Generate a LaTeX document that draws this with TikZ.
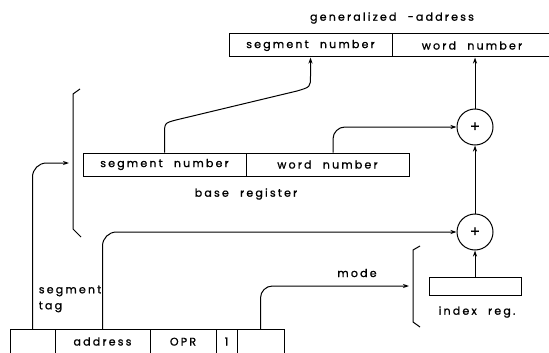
\documentclass[tikz,border=0pt]{standalone}
\usepackage{fontspec}
\setmainfont{Poppins}[LetterSpace=20,WordSpace=2.2,FakeBold=1.2]
\usetikzlibrary{arrows.meta}
\begin{document}
\begin{tikzpicture}[x=1pt,y=-1pt,line width=1pt,
        >={Stealth[length=6pt,width=4pt]},
        lbl/.style={font=\fontsize{11}{16}\selectfont},
        field/.style={draw,lbl,minimum height=23pt,inner sep=0pt},
        instr/.style={field,anchor=north,minimum height=0pt,text height=16pt,text depth=24pt},
        adder/.style={draw,circle,minimum size=36pt,inner sep=0pt,font=\fontsize{15}{15}\selectfont}]
        \useasboundingbox (0,0) rectangle (549,353);
        % generalized address
        \node[field,minimum width=163pt] (gseg) at (310.5,45.5) {segment number};
        \node[field,minimum width=160pt] (gword) at (472,45.5) {word number};
        \node[lbl] (gname) at (392,18) {generalized -address};
        % base register
        \node[field,minimum width=163pt] (bseg) at (164.5,164.5) {segment number};
        \node[field,minimum width=163pt] (bword) at (327.5,164.5) {word number};
        \node[lbl] (bname) at (246,194) {base register};
        % adders and index register
        \node[adder] (sum1) at (475,127) {+};
        \node[adder] (sum2) at (475,232) {+};
        \node[field,minimum width=92pt,minimum height=18pt] (xreg) at (475,286) {};
        \node[lbl] (xname) at (477,312) {index reg.};
        % instruction word
        \node[instr,minimum width=45pt] (tag) at (32.5,329) {};
        \node[instr,minimum width=95pt] (addr) at (102.5,329) {address};
        \node[instr,minimum width=66pt] (opr) at (183,329) {OPR};
        \node[instr,minimum width=21pt] (flag) at (226.5,329) {1};
        \node[instr,minimum width=47pt] (modefld) at (260.5,329) {};
        \node[lbl,align=left,anchor=west] (taglbl) at (35,299) {segment\\tag};
        \node[lbl] (modelbl) at (357,273) {mode};
        \coordinate (brk) at (69,163);
        \coordinate (modeend) at (409,286);
        % brackets
        \draw (80,89) -- (73,94) -- (73,229) -- (81,237);
        \draw (420,246) -- (413,250) -- (413,322) -- (420,327);
        % connectors
        \draw[->,rounded corners=14pt] (tag.north) |- (brk);
        \draw[->] (bseg.north) -- (164.5,135) .. controls (164.5,123) .. (176,120)
            -- (297,91) .. controls (310.5,87) .. (310.5,76) -- (gseg.south);
        \draw[->,rounded corners=12pt] ([xshift=5.5pt]bword.north) |- (sum1.west);
        \draw[->,rounded corners=14pt] (addr.north) |- (sum2.west);
        \draw[->,rounded corners=12pt] (modefld.north) |- (modeend);
        \draw[->] (xreg.north) -- (sum2.south);
        \draw[->] (sum2.north) -- (sum1.south);
        \draw[->] (sum1.north) -- (sum1.north |- gword.south);
    \end{tikzpicture}
\end{document}
